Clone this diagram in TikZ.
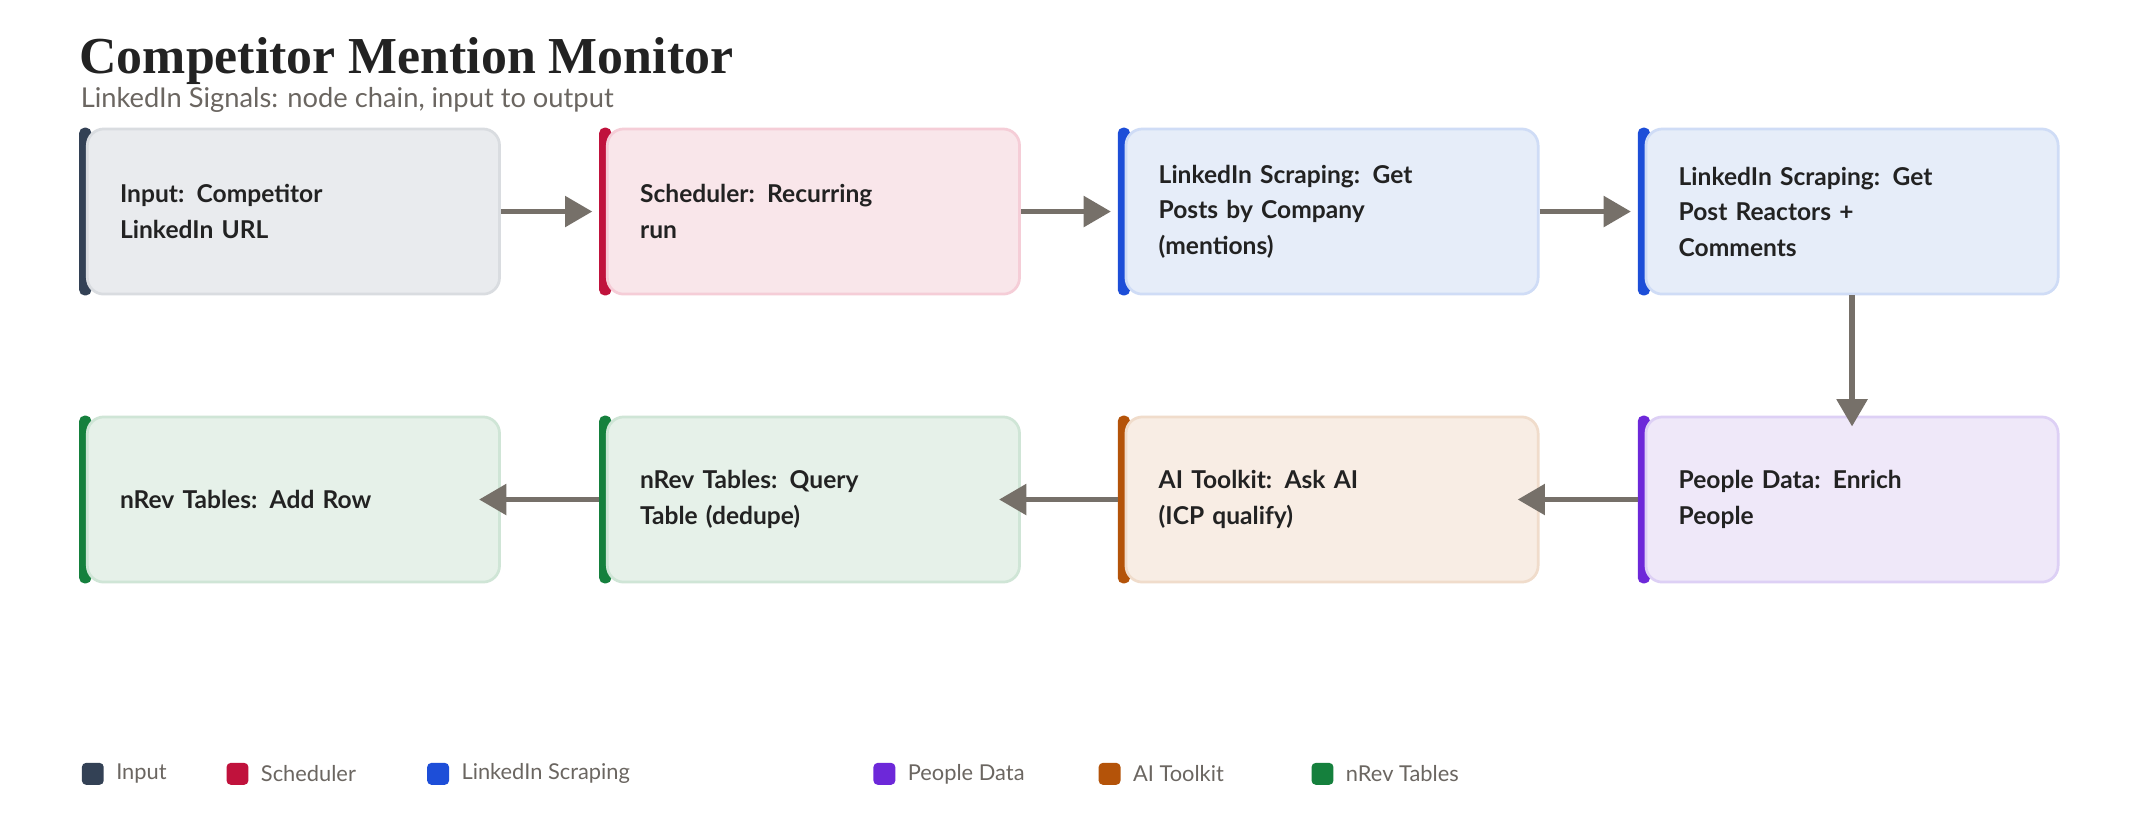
\documentclass[tikz,border=0pt]{standalone}
\usepackage{fontspec}
\setmainfont{Lato}
\newfontfamily\titlefont{Liberation Serif}
\usetikzlibrary{arrows.meta,positioning}
\definecolor{inC}{HTML}{334155}\definecolor{inF}{HTML}{E9EBEE}\definecolor{inB}{HTML}{D9DCE0}
\definecolor{scC}{HTML}{C0123C}\definecolor{scF}{HTML}{F9E6EA}\definecolor{scB}{HTML}{F5CDD7}
\definecolor{liC}{HTML}{1D4ED8}\definecolor{liF}{HTML}{E6EDF9}\definecolor{liB}{HTML}{CFDCF6}
\definecolor{peC}{HTML}{6D28D9}\definecolor{peF}{HTML}{EFE8F9}\definecolor{peB}{HTML}{DDD0F5}
\definecolor{aiC}{HTML}{B45309}\definecolor{aiF}{HTML}{F8EDE4}\definecolor{aiB}{HTML}{F0DCCB}
\definecolor{nrC}{HTML}{15803D}\definecolor{nrF}{HTML}{E6F1E9}\definecolor{nrB}{HTML}{CFE5D6}
\definecolor{arrowgray}{HTML}{767069}
\definecolor{textdark}{HTML}{222222}
\definecolor{subgray}{HTML}{6B6661}
\tikzset{
  box/.style 2 args={draw=#1B, fill=#1F, line width=2pt, rounded corners=12pt,
    minimum width=302pt, minimum height=121pt, text width=254pt, inner xsep=24pt,
    align=left, font=\fontsize{18}{26}\selectfont\bfseries, text=textdark,
    append after command={\pgfextra{\fill[#2, rounded corners=4pt]
      ([xshift=-5pt]\tikzlastnode.south west) rectangle ([xshift=4pt]\tikzlastnode.north west);}}},
  flow/.style={draw=arrowgray, line width=4pt, -{Triangle[length=20pt,width=22pt]}},
  legsq/.style={fill=#1, rounded corners=3pt, minimum size=16pt, inner sep=0pt},
  leglab/.style={font=\fontsize{16}{18}\selectfont, text=subgray, anchor=west, inner sep=0pt}
}
\begin{document}
\begin{tikzpicture}[x=1pt,y=-1pt]
\useasboundingbox[fill=white] (0,0) rectangle (1568,604);

%title
\node[anchor=base west, inner sep=0pt, font=\titlefont\fontsize{38}{40}\selectfont\bfseries, text=textdark] (title) at (58,54) {Competitor Mention Monitor};
\node[anchor=base west, inner sep=0pt, font=\fontsize{20}{22}\selectfont, text=subgray] (subtitle) at (59,79) {LinkedIn Signals: node chain, input to output};

%first row
\node[box={in}{inC}] (input) at (215,155) {Input: Competitor\\LinkedIn URL};
\node[box={sc}{scC}] (sched) at (596,155) {Scheduler: Recurring\\run};
\node[box={li}{liC}] (posts) at (976,155) {LinkedIn Scraping: Get\\Posts by Company\\(mentions)};
\node[box={li}{liC}] (reactors) at (1357,155) {LinkedIn Scraping: Get\\Post Reactors +\\Comments};

%second row
\node[box={pe}{peC}] (enrich) at (1357,366) {People Data: Enrich\\People};
\node[box={ai}{aiC}] (askai) at (976,366) {AI Toolkit: Ask AI\\(ICP qualify)};
\node[box={nr}{nrC}] (query) at (596,366) {nRev Tables: Query\\Table (dedupe)};
\node[box={nr}{nrC}] (addrow) at (215,366) {nRev Tables: Add Row};

\draw[flow] (input) -- ([xshift=-10pt]sched.west);
\draw[flow] (sched) -- ([xshift=-10pt]posts.west);
\draw[flow] (posts) -- ([xshift=-10pt]reactors.west);
\draw[flow] (reactors) -- ([yshift=-8pt]enrich.north);
\draw[flow] ([xshift=-5pt]enrich.west) -- ([xshift=-16pt]askai.east);
\draw[flow] ([xshift=-5pt]askai.west) -- ([xshift=-16pt]query.east);
\draw[flow] ([xshift=-5pt]query.west) -- ([xshift=-16pt]addrow.east);

%legend
\foreach \c/\x/\t in {inC/68/Input, scC/174/Scheduler, liC/321/LinkedIn Scraping/Automation,
    peC/648/People Data, aiC/813/AI Toolkit, nrC/969/nRev Tables/Output}{
  \node[legsq=\c] (sq\x) at (\x,567) {};
  \node[leglab] (lab\x) at (\x+17,567) {\t};
}
\end{tikzpicture}
\end{document}
